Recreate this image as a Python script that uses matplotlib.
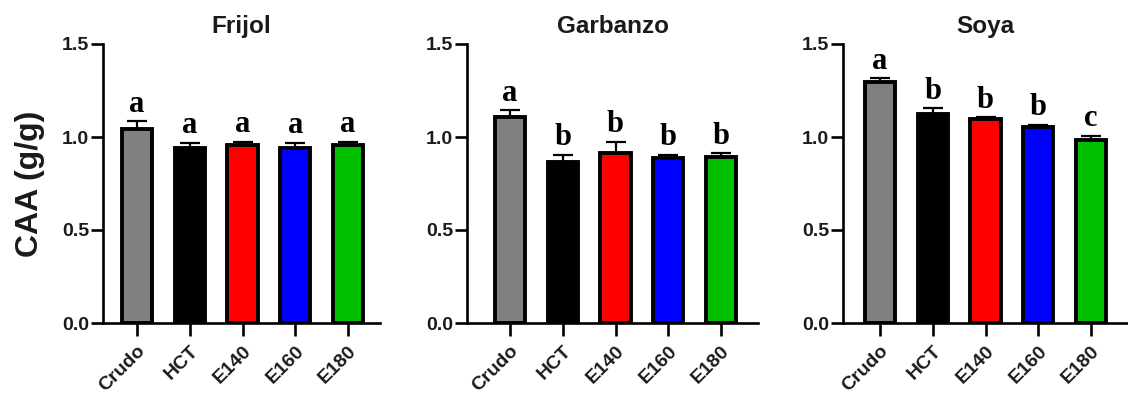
import matplotlib
matplotlib.use("Agg")
import matplotlib.pyplot as plt
import numpy as np

# ---- data ----
categories = ["Crudo", "HCT", "E140", "E160", "E180"]
panel_titles = ["Frijol", "Garbanzo", "Soya"]

frijol_mean = [1.045, 0.94, 0.955, 0.94, 0.955]
frijol_err = [0.04, 0.03, 0.02, 0.03, 0.02]
frijol_letters = ["a", "a", "a", "a", "a"]

garbanzo_mean = [1.11, 0.865, 0.915, 0.885, 0.895]
garbanzo_err = [0.035, 0.04, 0.06, 0.02, 0.02]
garbanzo_letters = ["a", "b", "b", "b", "b"]

soya_mean = [1.295, 1.125, 1.095, 1.055, 0.985]
soya_err = [0.02, 0.03, 0.012, 0.012, 0.022]
soya_letters = ["a", "b", "b", "b", "c"]

y_ticks = [0.0, 0.5, 1.0, 1.5]
y_label = "CAA (g/g)"

bar_colors = ["#808080", "#000000", "#FF0000", "#0000FF", "#00C000"]

# ---- layout ----
W, H = 1128, 396
fig = plt.figure(figsize=(W / 100, H / 100), dpi=100)

panels = [
    (frijol_mean, frijol_err, frijol_letters),
    (garbanzo_mean, garbanzo_err, garbanzo_letters),
    (soya_mean, soya_err, soya_letters),
]
# axes rectangles in pixels: left, right
ax_px = [(103, 380), (467, 758), (843, 1127)]
xlims = [(-0.645, 4.607), (-0.815, 4.70), (-0.70, 4.68)]
top_px, bottom_px = 44, 323

sans = "Liberation Sans"
serif = "Liberation Serif"
txt_color = "#1a1a1a"

for i, ((means, errs, letters), (l, r), xl) in enumerate(zip(panels, ax_px, xlims)):
    ax = fig.add_axes([l / W, (H - bottom_px) / H, (r - l) / W, (bottom_px - top_px) / H])
    x = np.arange(len(categories))
    ax.bar(x, means, width=0.57, color=bar_colors, edgecolor="black",
           linewidth=2.8, zorder=2)
    ax.errorbar(x, means, yerr=[np.zeros(len(means)), errs], fmt="none",
                ecolor="black", elinewidth=1.6, capsize=7, capthick=1.6, zorder=1)
    for xi, m, e, let in zip(x, means, errs, letters):
        ax.text(xi, m + e + 0.05, let, ha="center", va="baseline",
                fontsize=22, fontweight="bold", family=serif)
    ax.set_xlim(*xl)
    ax.set_ylim(0, 1.5)
    ax.set_yticks(y_ticks)
    ax.set_yticklabels([f"{t:.1f}" for t in y_ticks])
    ax.set_xticks(x)
    ax.set_xticklabels(categories, rotation=45, ha="right", rotation_mode="anchor")
    for s in ["top", "right"]:
        ax.spines[s].set_visible(False)
    for s in ["left", "bottom"]:
        ax.spines[s].set_linewidth(1.9)
    ax.tick_params(axis="y", length=9, width=1.9, labelsize=14, pad=1)
    ax.tick_params(axis="x", length=9, width=1.9, labelsize=14, pad=5)
    for lab in ax.get_xticklabels() + ax.get_yticklabels():
        lab.set_fontweight("bold")
        lab.set_family(sans)
        lab.set_color(txt_color)
    ax.set_title(panel_titles[i], fontsize=17.5, fontweight="bold", family=sans,
                 pad=8, color=txt_color)
    if i == 0:
        ax.set_ylabel(y_label, fontsize=23, fontweight="bold", family=sans,
                      labelpad=12, color=txt_color)

fig.savefig("out.png", dpi=100)
